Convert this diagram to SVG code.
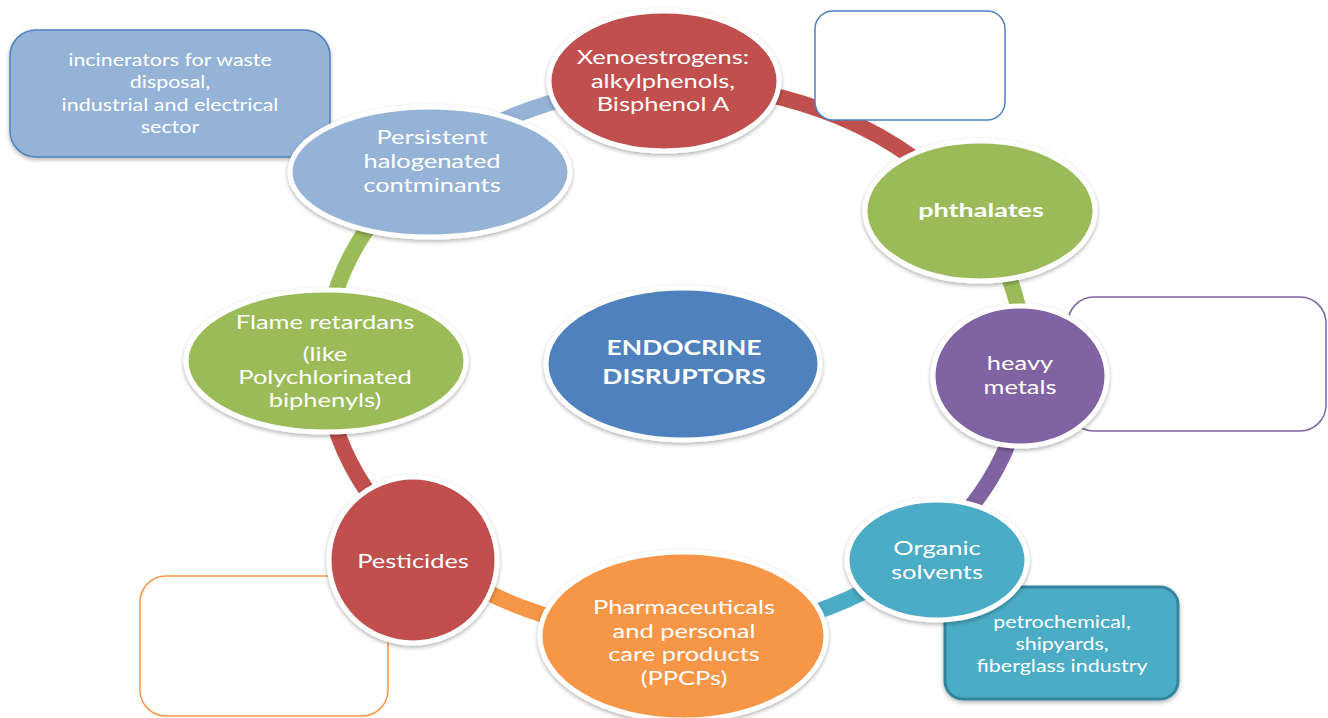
<svg xmlns="http://www.w3.org/2000/svg" width="1328" height="718" viewBox="0 0 1328 718">
<defs>
<filter id="sh" x="-10%" y="-10%" width="120%" height="130%">
<feDropShadow dx="0" dy="2" stdDeviation="2" flood-color="#000" flood-opacity="0.3"/>
</filter>
<style>
.node{stroke:#fff;stroke-width:5;filter:url(#sh)}
.box{stroke-width:1.5}
.ring{fill:none;stroke-width:16}
text{font-family:Lato,"Open Sans","DejaVu Sans",sans-serif;fill:#fff;text-anchor:middle}
.t{font-size:19px}
.s{font-size:16.5px}
.b{font-weight:bold}
</style>
</defs>
<rect width="1328" height="718" fill="#fff"/>
<g id="connectors">
<path class="ring" stroke="#95b3d7" d="M424,168 A350,275 0 0 1 663,85"/>
<path class="ring" stroke="#c0504d" d="M663,85 A350,275 0 0 1 972,214"/>
<path class="ring" stroke="#9bbb59" d="M972,214 A350,275 0 0 1 1024,374"/>
<path class="ring" stroke="#8064a2" d="M1024,374 A350,275 0 0 1 927,551"/>
<path class="ring" stroke="#4bacc6" d="M927,551 A350,275 0 0 1 683,635"/>
<path class="ring" stroke="#f79646" d="M683,635 A350,275 0 0 1 423,551"/>
<path class="ring" stroke="#c0504d" d="M423,551 A350,275 0 0 1 325,360"/>
<path class="ring" stroke="#9bbb59" d="M325,360 A350,275 0 0 1 424,168"/>
</g>
<g id="box-incinerators">
<rect class="box" x="10" y="30" width="320" height="127" rx="26" fill="#95b3d7" stroke="#4f81bd" filter="url(#sh)"/>
<g transform="translate(170,0) scale(1.3,1)">
<text class="s" x="0" y="66">incinerators for waste</text>
<text class="s" x="0" y="88">disposal,</text>
<text class="s" x="0" y="111">industrial and electrical</text>
<text class="s" x="0" y="133">sector</text>
</g>
</g>
<g id="box-xeno"><rect class="box" x="815" y="11" width="190" height="109" rx="18" fill="#fff" stroke="#4f81bd"/></g>
<g id="box-metals"><rect class="box" x="1068" y="297" width="258" height="134" rx="26" fill="#fff" stroke="#8064a2"/></g>
<g id="box-pesticides"><rect class="box" x="140" y="576" width="248" height="140" rx="26" fill="#fff" stroke="#f79646"/></g>
<g id="box-petro">
<rect x="945" y="587" width="233" height="112" rx="18" fill="#4bacc6" stroke="#31859c" stroke-width="3" filter="url(#sh)"/>
<g transform="translate(1062,0) scale(1.3,1)">
<text class="s" x="0" y="628">petrochemical,</text>
<text class="s" x="0" y="650">shipyards,</text>
<text class="s" x="0" y="672">fiberglass industry</text>
</g>
</g>
<g id="node-persistent">
<ellipse class="node" cx="430" cy="172" rx="140" ry="65" fill="#95b3d7"/>
<g transform="translate(432,0) scale(1.34,1)">
<text class="t" x="0" y="144">Persistent</text>
<text class="t" x="0" y="168">halogenated</text>
<text class="t" x="0" y="192">contminants</text>
</g>
</g>
<g id="node-xeno">
<ellipse class="node" cx="664" cy="81" rx="115" ry="70" fill="#c0504d"/>
<g transform="translate(663,0) scale(1.34,1)">
<text class="t" x="0" y="64">Xenoestrogens:</text>
<text class="t" x="0" y="88">alkylphenols,</text>
<text class="t" x="0" y="111">Bisphenol A</text>
</g>
</g>
<g id="node-phthalates">
<ellipse class="node" cx="980" cy="211" rx="115" ry="70" fill="#9bbb59"/>
<g transform="translate(981,0) scale(1.42,1)">
<text class="t b" x="0" y="217">phthalates</text>
</g>
</g>
<g id="node-metals">
<ellipse class="node" cx="1020" cy="376" rx="87" ry="70" fill="#8064a2"/>
<g transform="translate(1020,0) scale(1.34,1)">
<text class="t" x="0" y="370">heavy</text>
<text class="t" x="0" y="394">metals</text>
</g>
</g>
<g id="node-organic">
<ellipse class="node" cx="937" cy="560" rx="90" ry="60" fill="#4bacc6"/>
<g transform="translate(937,0) scale(1.34,1)">
<text class="t" x="0" y="555">Organic</text>
<text class="t" x="0" y="579">solvents</text>
</g>
</g>
<g id="node-ppcps">
<ellipse class="node" cx="683" cy="636" rx="143" ry="84" fill="#f79646"/>
<g transform="translate(684,0) scale(1.34,1)">
<text class="t" x="0" y="614">Pharmaceuticals</text>
<text class="t" x="0" y="638">and personal</text>
<text class="t" x="0" y="661">care products</text>
<text class="t" x="0" y="685">(PPCPs)</text>
</g>
</g>
<g id="node-pesticides">
<ellipse class="node" cx="413" cy="560" rx="84" ry="83" fill="#c0504d"/>
<g transform="translate(413,0) scale(1.34,1)">
<text class="t" x="0" y="568">Pesticides</text>
</g>
</g>
<g id="node-flame">
<ellipse class="node" cx="326" cy="361" rx="140" ry="71" fill="#9bbb59"/>
<g transform="translate(325,0) scale(1.34,1)">
<text class="t" x="0" y="329">Flame retardans</text>
<text class="t" x="0" y="361">(like</text>
<text class="t" x="0" y="384">Polychlorinated</text>
<text class="t" x="0" y="407">biphenyls)</text>
</g>
</g>
<g id="node-center">
<ellipse class="node" cx="683" cy="364" rx="137" ry="76" fill="#4f81bd"/>
<g transform="translate(684,0) scale(1.23,1)">
<text class="b" x="0" y="355" style="font-size:21.5px">ENDOCRINE</text>
<text class="b" x="0" y="384" style="font-size:21.5px">DISRUPTORS</text>
</g>
</g>
</svg>
